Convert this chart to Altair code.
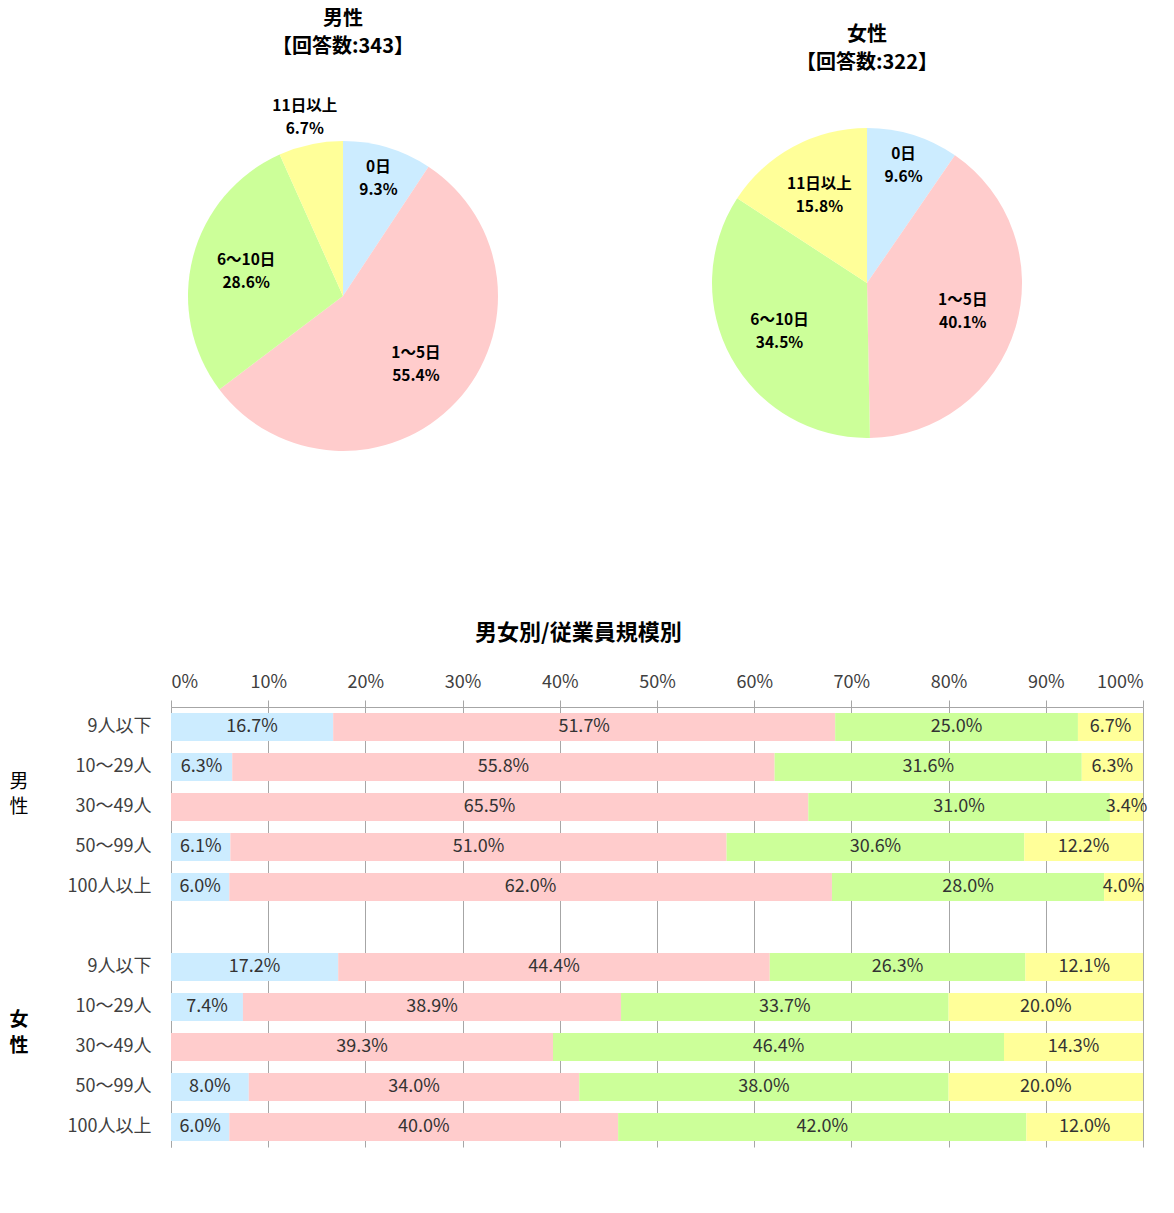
import altair as alt
import pandas as pd

FONT = "Noto Sans CJK JP"

categories = ["0日", "1～5日", "6～10日", "11日以上"]
colors = ["#CCECFF", "#FFCCCC", "#CCFF99", "#FFFF99"]

male_pie = [9.3, 55.4, 28.6, 6.7]
female_pie = [9.6, 40.1, 34.5, 15.8]
male_title = ["男性", "【回答数:343】"]
female_title = ["女性", "【回答数:322】"]

size_labels = ["9人以下", "10～29人", "30～49人", "50～99人", "100人以上"]
male_rows = [
    [16.7, 51.7, 25.0, 6.7],
    [6.3, 55.8, 31.6, 6.3],
    [0.0, 65.5, 31.0, 3.4],
    [6.1, 51.0, 30.6, 12.2],
    [6.0, 62.0, 28.0, 4.0],
]
female_rows = [
    [17.2, 44.4, 26.3, 12.1],
    [7.4, 38.9, 33.7, 20.0],
    [0.0, 39.3, 46.4, 14.3],
    [8.0, 34.0, 38.0, 20.0],
    [6.0, 40.0, 42.0, 12.0],
]
group_names = ["男", "女"]
group_suffix = "性"
bar_title = "男女別/従業員規模別"
x_ticks = [0, 0.1, 0.2, 0.3, 0.4, 0.5, 0.6, 0.7, 0.8, 0.9, 1.0]

color_scale = alt.Scale(domain=categories, range=colors)
ZW = "\u200b"  # zero-width space keeps the female row keys distinct


# ---------------- pies ----------------
def label_tier(v):
    # small slices get their label further out, as in the reference
    return 0 if v < 8 else (1 if v < 12 else 2)


tier_radius = [183, 123, 100]


def pie(vals, title, w, h, offset):
    df = pd.DataFrame({
        "cat": categories,
        "value": vals,
        "ci": list(range(len(categories))),
    })
    for t in range(3):
        df[f"name{t}"] = [c if label_tier(v) == t else "" for c, v in zip(categories, vals)]
        df[f"pct{t}"] = [f"{v:.1f}%" if label_tier(v) == t else "" for v in vals]
    base = alt.Chart(df).encode(
        theta=alt.Theta("value:Q", stack=True),
        order=alt.Order("ci:Q"),
    )
    layers = [base.mark_arc(outerRadius=155).encode(
        color=alt.Color("cat:N", scale=color_scale, legend=None)
    )]
    for t in range(3):
        layers.append(base.mark_text(
            radius=tier_radius[t], dy=-11.5, font=FONT, fontSize=15.5,
            fontWeight="bold", color="#000000"
        ).encode(text=f"name{t}:N"))
        layers.append(base.mark_text(
            radius=tier_radius[t], dy=11.5, font=FONT, fontSize=15.5,
            fontWeight="bold", color="#000000"
        ).encode(text=f"pct{t}:N"))
    return alt.layer(*layers).properties(
        width=w, height=h,
        title=alt.TitleParams(
            text=title, font=FONT, fontSize=20, fontWeight="bold",
            lineHeight=28, offset=offset, color="#000000",
        ),
    )


male_chart = pie(male_pie, male_title, 344, 356, 42)
female_chart = pie(female_pie, female_title, 320, 330, 17)
top = alt.hconcat(male_chart, female_chart, spacing=191)

# ---------------- stacked bars ----------------
male_keys = list(size_labels)
female_keys = [s + ZW for s in size_labels]
row_domain = male_keys + [ZW + ZW] + female_keys

recs, trecs = [], []
for keys, grp in ((male_keys, male_rows), (female_keys, female_rows)):
    for k, vals in zip(keys, grp):
        total = sum(vals)
        cum = 0.0
        for ci, (c, v) in enumerate(zip(categories, vals)):
            recs.append({"rowkey": k, "cat": c, "ci": ci, "value": v})
            if v > 0:
                trecs.append({"rowkey": k, "mid": (cum + v / 2) / total,
                              "txt": f"{v:.1f}%"})
            cum += v
bar_df = pd.DataFrame(recs)
text_df = pd.DataFrame(trecs)

x_scale = alt.Scale(domain=[0, 1])
y_enc = alt.Y(
    "rowkey:N",
    scale=alt.Scale(domain=row_domain, paddingInner=0.3, paddingOuter=0.15),
    axis=alt.Axis(
        title=None, labelFont=FONT, labelFontSize=18, labelColor="#404040",
        labelPadding=20, ticks=False, domainColor="#A6A6A6", grid=False,
    ),
)

bars = alt.Chart(bar_df).mark_bar().encode(
    x=alt.X(
        "value:Q", stack="normalize", scale=x_scale,
        axis=alt.Axis(
            orient="top", format="%", values=x_ticks, title=None,
            labelFont=FONT, labelFontSize=18, labelColor="#404040",
            tickSize=7, labelPadding=9, tickColor="#A6A6A6",
            domainColor="#A6A6A6", grid=True, gridColor="#A6A6A6",
        ),
    ),
    y=y_enc,
    color=alt.Color(
        "cat:N", scale=color_scale, title=None,
        legend=alt.Legend(orient="bottom", direction="horizontal", offset=4,
                          labelFont=FONT, labelFontSize=18, labelColor="#404040",
                          symbolType="square", symbolSize=130,
                          symbolStrokeWidth=0, columnPadding=50),
    ),
    order=alt.Order("ci:Q"),
)

values_text = alt.Chart(text_df).mark_text(
    font=FONT, fontSize=18, color="#333333"
).encode(
    x=alt.X("mid:Q", scale=x_scale),
    y=y_enc,
    text="txt:N",
)


def group_char(key, ch, dy, weight):
    return alt.Chart(pd.DataFrame({"rowkey": [key], "t": [ch]})).mark_text(
        font=FONT, fontSize=19, fontWeight=weight, color="#000000", dy=dy
    ).encode(x=alt.value(-152), y=y_enc, text="t:N")


group_layers = [
    group_char(male_keys[1], group_names[0], 15, "normal"),
    group_char(male_keys[2], group_suffix, 0, "normal"),
    group_char(female_keys[1], group_names[1], 13, "bold"),
    group_char(female_keys[2], group_suffix, -1, "bold"),
]

bar_chart = alt.layer(bars, values_text, *group_layers).properties(
    width=972, height=440,
    title=alt.TitleParams(
        text=bar_title, font=FONT, fontSize=22, fontWeight="bold",
        color="#000000", offset=28, frame="bounds",
    ),
)

chart = alt.vconcat(top, bar_chart, spacing=147).properties(
    padding={"left": 0, "top": 0, "right": 0, "bottom": 0}
).configure(font=FONT).configure_view(stroke="transparent")

chart.save("out.html", embed_options={"renderer": "svg", "actions": False})
